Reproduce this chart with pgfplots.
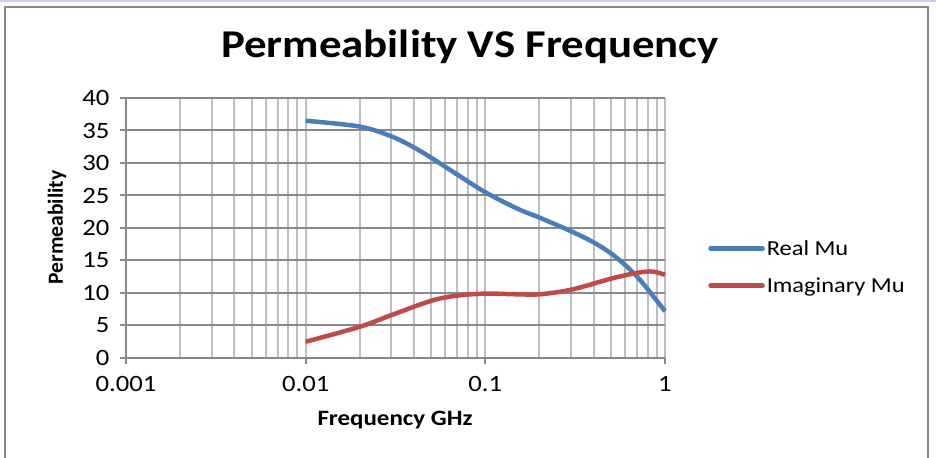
\documentclass[border=0pt]{standalone}
\usepackage{pgfplots}
\pgfplotsset{compat=1.18}
\usepackage{fontspec}
\setmainfont{Carlito}[FakeStretch=1.14]
\newfontfamily\plainfont{Carlito}
\definecolor{realc}{RGB}{74,126,187}
\definecolor{imagc}{RGB}{190,75,72}
\definecolor{gridc}{RGB}{190,190,190}
\definecolor{axc}{RGB}{136,136,136}
\definecolor{topc}{RGB}{200,210,240}
\begin{document}
\begin{tikzpicture}[x=1bp,y=1bp]
\useasboundingbox (0,0) rectangle (936,458);
\fill[topc] (0,456) rectangle (936,458);
\draw[color=axc, line width=1.5bp] (5,-5) -- (5,451) -- (928,451) -- (928,-5);
\node[font=\bfseries\fontsize{39.5}{44}\selectfont, anchor=base] at (470,400) {Permeability VS Frequency};
\node[font=\plainfont\bfseries\fontsize{21.7}{26}\selectfont, rotate=90] at (57,230.5) {Permeability};
\node[font=\bfseries\fontsize{22}{26}\selectfont] at (395,38) {Frequency GHz};
\begin{axis}[at={(126bp,100bp)}, anchor=south west, scale only axis,
  width=539bp, height=260bp,
  xmode=log, log basis x=10,
  xmin=0.001, xmax=1, ymin=0, ymax=40,
  ytick={0,5,...,40},
  xtick={0.001,0.01,0.1,1}, xticklabels={0.001,0.01,0.1,1},
  minor xtick={0.002,0.003,0.004,0.005,0.006,0.007,0.008,0.009,
    0.02,0.03,0.04,0.05,0.06,0.07,0.08,0.09,
    0.2,0.3,0.4,0.5,0.6,0.7,0.8,0.9},
  xmajorgrids, xminorgrids, ymajorgrids,
  major x grid style={draw=gridc, line width=2bp},
  minor x grid style={draw=gridc, line width=2bp},
  major y grid style={draw=axc, line width=2bp},
  axis lines*=left,
  axis line style={draw=axc, line width=2bp},
  tick align=outside,
  major tick length=6bp, minor tick length=0pt,
  tick style={draw=axc, line width=2bp},
  ticklabel style={font=\fontsize{23.5}{26}\selectfont},
  xticklabel style={yshift=-9bp},
  yticklabel style={xshift=-7bp},
  /pgf/number format/assume math mode=true,
  legend style={at={(1.08,0.35)}, anchor=west, draw=none, fill=none,
    font=\fontsize{21.5}{24}\selectfont, inner sep=0pt, row sep=17bp},
  legend cell align=left,
  legend image code/.code={\draw[#1, line width=4.5bp, line cap=round] (0bp,0bp) -- (52bp,0bp);},
  clip=false,
]
\addplot[realc, line width=4.5bp, smooth, tension=0.55] coordinates {
(0.01,36.5) (0.02,35.6) (0.03,34.1) (0.04,32.4) (0.05,30.8) (0.07,28.2)
(0.1,25.5) (0.15,23.0) (0.2,21.6) (0.3,19.5) (0.4,17.8) (0.5,16.1) (0.6,14.3) (0.7,12.5) (0.8,10.6) (1,7.2)};
\addlegendentry{Real Mu}
\addplot[imagc, line width=4.5bp, smooth, tension=0.55] coordinates {
(0.01,2.5) (0.02,4.8) (0.03,6.6) (0.05,8.8) (0.07,9.6) (0.1,9.9) (0.15,9.8)
(0.2,9.8) (0.3,10.5) (0.5,12.2) (0.7,13.1) (0.85,13.3) (1,12.8)};
\addlegendentry{Imaginary Mu}
\end{axis}
\end{tikzpicture}
\end{document}
